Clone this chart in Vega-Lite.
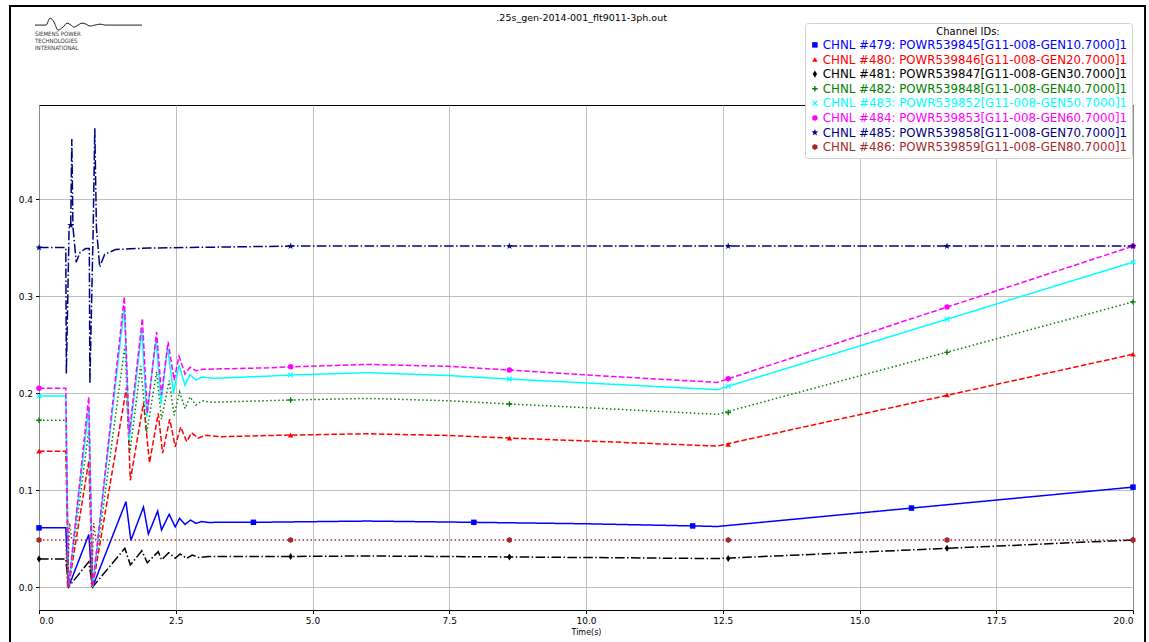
{
  "$schema": "https://vega.github.io/schema/vega-lite/v6.json",
  "width": 1094,
  "height": 505,
  "autosize": {"type": "none"},
  "padding": {"left": 39, "top": 105, "right": 16, "bottom": 32},
  "background": "white",
  "config": {
    "view": {"stroke": "black", "strokeWidth": 1},
    "font": "DejaVu Sans",
    "axis": {"labelFont": "DejaVu Sans", "labelFontSize": 9, "labelColor": "black", "tickColor": "black", "tickSize": 3.5, "domain": false, "gridColor": "#b0b0b0", "gridWidth": 0.8, "titleFont": "DejaVu Sans", "titleFontWeight": "normal", "titleColor": "black"},
    "legend": {"orient": "none", "legendX": 766, "legendY": -82, "titleAnchor": "middle", "titleFontSize": 10, "titleFontWeight": "normal", "titleFont": "DejaVu Sans", "titleColor": "black", "titlePadding": 2,
      "labelFont": "DejaVu Sans", "labelFontSize": 11.8, "labelLimit": 500, "labelOffset": 2, "symbolSize": 30, "symbolStrokeWidth": 0, "strokeColor": "#d0d0d0", "fillColor": "white", "padding": 4, "cornerRadius": 3, "rowPadding": 1.6}
  },
  "datasets": {
    "names": [
      {"ch": "479", "name": "CHNL #479: POWR539845[G11-008-GEN10.7000]1"},
      {"ch": "480", "name": "CHNL #480: POWR539846[G11-008-GEN20.7000]1"},
      {"ch": "481", "name": "CHNL #481: POWR539847[G11-008-GEN30.7000]1"},
      {"ch": "482", "name": "CHNL #482: POWR539848[G11-008-GEN40.7000]1"},
      {"ch": "483", "name": "CHNL #483: POWR539852[G11-008-GEN50.7000]1"},
      {"ch": "484", "name": "CHNL #484: POWR539853[G11-008-GEN60.7000]1"},
      {"ch": "485", "name": "CHNL #485: POWR539858[G11-008-GEN70.7000]1"},
      {"ch": "486", "name": "CHNL #486: POWR539859[G11-008-GEN80.7000]1"}
    ],
    "series": [
      {"ch":"479","t":0,"v":0.061},{"ch":"479","t":0.49,"v":0.061},{"ch":"479","t":0.54,"v":0.0},{"ch":"479","t":0.91,"v":0.054},{"ch":"479","t":0.98,"v":0.0},
      {"ch":"479","t":1.59,"v":0.088},{"ch":"479","t":1.68,"v":0.048},{"ch":"479","t":1.91,"v":0.0825},{"ch":"479","t":2.0,"v":0.0546},{"ch":"479","t":2.17,"v":0.0783},
      {"ch":"479","t":2.24,"v":0.0588},{"ch":"479","t":2.38,"v":0.075},{"ch":"479","t":2.49,"v":0.062},{"ch":"479","t":2.57,"v":0.0708},{"ch":"479","t":2.67,"v":0.0646},
      {"ch":"479","t":2.77,"v":0.069},{"ch":"479","t":2.87,"v":0.0656},{"ch":"479","t":2.97,"v":0.0675},{"ch":"479","t":3.1,"v":0.0665},{"ch":"479","t":3.3,"v":0.0668},
      {"ch":"479","t":3.92,"v":0.0667},{"ch":"479","t":6.0,"v":0.068},{"ch":"479","t":7.95,"v":0.0667},{"ch":"479","t":10.0,"v":0.0652},{"ch":"479","t":11.95,"v":0.063},
      {"ch":"479","t":12.4,"v":0.0624},{"ch":"479","t":20,"v":0.103},

      {"ch":"480","t":0,"v":0.14},{"ch":"480","t":0.49,"v":0.14},{"ch":"480","t":0.54,"v":0.0},{"ch":"480","t":0.91,"v":0.13},{"ch":"480","t":0.98,"v":0.0},
      {"ch":"480","t":1.6,"v":0.206},{"ch":"480","t":1.67,"v":0.11},{"ch":"480","t":1.91,"v":0.19},{"ch":"480","t":2.02,"v":0.128},{"ch":"480","t":2.18,"v":0.179},
      {"ch":"480","t":2.26,"v":0.138},{"ch":"480","t":2.39,"v":0.173},{"ch":"480","t":2.49,"v":0.1447},{"ch":"480","t":2.59,"v":0.165},{"ch":"480","t":2.7,"v":0.15},
      {"ch":"480","t":2.79,"v":0.159},{"ch":"480","t":2.91,"v":0.1535},{"ch":"480","t":3.05,"v":0.1565},{"ch":"480","t":3.3,"v":0.155},{"ch":"480","t":4.6,"v":0.1567},
      {"ch":"480","t":6.0,"v":0.158},{"ch":"480","t":7.5,"v":0.1562},{"ch":"480","t":8.6,"v":0.1536},{"ch":"480","t":10.5,"v":0.1495},{"ch":"480","t":12.4,"v":0.1453},
      {"ch":"480","t":20,"v":0.24},

      {"ch":"481","t":0,"v":0.029},{"ch":"481","t":0.49,"v":0.029},{"ch":"481","t":0.54,"v":0.0},{"ch":"481","t":0.91,"v":0.026},{"ch":"481","t":0.98,"v":0.0},
      {"ch":"481","t":1.57,"v":0.04},{"ch":"481","t":1.67,"v":0.0227},{"ch":"481","t":1.88,"v":0.0374},{"ch":"481","t":1.98,"v":0.025},{"ch":"481","t":2.18,"v":0.0364},
      {"ch":"481","t":2.24,"v":0.028},{"ch":"481","t":2.37,"v":0.0354},{"ch":"481","t":2.49,"v":0.0297},{"ch":"481","t":2.58,"v":0.034},{"ch":"481","t":2.7,"v":0.0296},
      {"ch":"481","t":2.8,"v":0.033},{"ch":"481","t":2.92,"v":0.0305},{"ch":"481","t":3.1,"v":0.0315},{"ch":"481","t":4.6,"v":0.0315},{"ch":"481","t":6.0,"v":0.032},
      {"ch":"481","t":8.6,"v":0.031},{"ch":"481","t":10.5,"v":0.0302},{"ch":"481","t":12.4,"v":0.0293},{"ch":"481","t":20,"v":0.0485},

      {"ch":"482","t":0,"v":0.172},{"ch":"482","t":0.49,"v":0.172},{"ch":"482","t":0.54,"v":0.0},{"ch":"482","t":0.91,"v":0.162},{"ch":"482","t":0.98,"v":0.0},
      {"ch":"482","t":1.57,"v":0.249},{"ch":"482","t":1.66,"v":0.138},{"ch":"482","t":1.86,"v":0.228},{"ch":"482","t":1.97,"v":0.159},{"ch":"482","t":2.15,"v":0.222},
      {"ch":"482","t":2.24,"v":0.173},{"ch":"482","t":2.38,"v":0.213},{"ch":"482","t":2.47,"v":0.177},{"ch":"482","t":2.57,"v":0.201},{"ch":"482","t":2.67,"v":0.184},
      {"ch":"482","t":2.76,"v":0.196},{"ch":"482","t":2.87,"v":0.1876},{"ch":"482","t":2.98,"v":0.192},{"ch":"482","t":3.15,"v":0.1905},{"ch":"482","t":4.6,"v":0.1928},
      {"ch":"482","t":6.0,"v":0.1945},{"ch":"482","t":7.5,"v":0.192},{"ch":"482","t":8.6,"v":0.1887},{"ch":"482","t":10.5,"v":0.1835},{"ch":"482","t":12.4,"v":0.178},
      {"ch":"482","t":20,"v":0.294},

      {"ch":"483","t":0,"v":0.197},{"ch":"483","t":0.49,"v":0.197},{"ch":"483","t":0.54,"v":0.0},{"ch":"483","t":0.91,"v":0.185},{"ch":"483","t":0.98,"v":0.0},
      {"ch":"483","t":1.56,"v":0.289},{"ch":"483","t":1.65,"v":0.1515},{"ch":"483","t":1.88,"v":0.265},{"ch":"483","t":1.97,"v":0.1756},{"ch":"483","t":2.14,"v":0.2564},
      {"ch":"483","t":2.23,"v":0.189},{"ch":"483","t":2.35,"v":0.2478},{"ch":"483","t":2.46,"v":0.1997},{"ch":"483","t":2.56,"v":0.229},{"ch":"483","t":2.67,"v":0.208},
      {"ch":"483","t":2.76,"v":0.219},{"ch":"483","t":2.87,"v":0.2134},{"ch":"483","t":2.98,"v":0.2165},{"ch":"483","t":3.2,"v":0.2152},{"ch":"483","t":4.2,"v":0.2175},
      {"ch":"483","t":4.6,"v":0.2186},{"ch":"483","t":6.0,"v":0.221},{"ch":"483","t":7.5,"v":0.218},{"ch":"483","t":8.6,"v":0.2144},{"ch":"483","t":10.5,"v":0.209},
      {"ch":"483","t":12.4,"v":0.2035},{"ch":"483","t":20,"v":0.335},

      {"ch":"484","t":0,"v":0.205},{"ch":"484","t":0.49,"v":0.205},{"ch":"484","t":0.54,"v":0.0},{"ch":"484","t":0.91,"v":0.196},{"ch":"484","t":0.98,"v":0.0},
      {"ch":"484","t":1.56,"v":0.2993},{"ch":"484","t":1.65,"v":0.158},{"ch":"484","t":1.89,"v":0.277},{"ch":"484","t":1.98,"v":0.179},{"ch":"484","t":2.15,"v":0.263},
      {"ch":"484","t":2.24,"v":0.198},{"ch":"484","t":2.36,"v":0.253},{"ch":"484","t":2.47,"v":0.2134},{"ch":"484","t":2.56,"v":0.238},{"ch":"484","t":2.67,"v":0.2196},
      {"ch":"484","t":2.76,"v":0.2265},{"ch":"484","t":2.87,"v":0.223},{"ch":"484","t":3.0,"v":0.2245},{"ch":"484","t":4.2,"v":0.226},{"ch":"484","t":4.6,"v":0.227},
      {"ch":"484","t":6.0,"v":0.2295},{"ch":"484","t":7.5,"v":0.2275},{"ch":"484","t":8.6,"v":0.2237},{"ch":"484","t":10.5,"v":0.217},{"ch":"484","t":12.4,"v":0.211},
      {"ch":"484","t":20,"v":0.3515},

      {"ch":"485","t":0,"v":0.35},{"ch":"485","t":0.49,"v":0.35},{"ch":"485","t":0.5,"v":0.22},{"ch":"485","t":0.55,"v":0.37},{"ch":"485","t":0.58,"v":0.373},
      {"ch":"485","t":0.6,"v":0.462},{"ch":"485","t":0.62,"v":0.372},{"ch":"485","t":0.68,"v":0.335},{"ch":"485","t":0.75,"v":0.345},{"ch":"485","t":0.85,"v":0.349},
      {"ch":"485","t":0.92,"v":0.349},{"ch":"485","t":0.93,"v":0.21},{"ch":"485","t":0.99,"v":0.368},{"ch":"485","t":1.02,"v":0.473},{"ch":"485","t":1.05,"v":0.37},
      {"ch":"485","t":1.11,"v":0.33},{"ch":"485","t":1.2,"v":0.343},{"ch":"485","t":1.4,"v":0.348},{"ch":"485","t":2.0,"v":0.3495},{"ch":"485","t":4.6,"v":0.3515},
      {"ch":"485","t":20,"v":0.3515},

      {"ch":"486","t":0,"v":0.0485},{"ch":"486","t":0.49,"v":0.0485},{"ch":"486","t":0.52,"v":0.0},{"ch":"486","t":0.56,"v":0.066},{"ch":"486","t":0.6,"v":0.0485},
      {"ch":"486","t":0.93,"v":0.0485},{"ch":"486","t":0.96,"v":0.0},{"ch":"486","t":1.0,"v":0.066},{"ch":"486","t":1.04,"v":0.0485},{"ch":"486","t":20,"v":0.0485}
    ],
    "markers": [
      {"ch":"479","t":0,"v":0.061},{"ch":"479","t":3.92,"v":0.0667},{"ch":"479","t":7.95,"v":0.0667},{"ch":"479","t":11.95,"v":0.063},{"ch":"479","t":15.95,"v":0.0814},{"ch":"479","t":20,"v":0.103},
      {"ch":"480","t":0,"v":0.14},{"ch":"480","t":4.6,"v":0.1567},{"ch":"480","t":8.6,"v":0.1536},{"ch":"480","t":12.6,"v":0.147},{"ch":"480","t":16.6,"v":0.198},{"ch":"480","t":20,"v":0.24},
      {"ch":"481","t":0,"v":0.029},{"ch":"481","t":4.6,"v":0.0315},{"ch":"481","t":8.6,"v":0.031},{"ch":"481","t":12.6,"v":0.0294},{"ch":"481","t":16.6,"v":0.04},{"ch":"481","t":20,"v":0.0485},
      {"ch":"482","t":0,"v":0.172},{"ch":"482","t":4.6,"v":0.1928},{"ch":"482","t":8.6,"v":0.1887},{"ch":"482","t":12.6,"v":0.18},{"ch":"482","t":16.6,"v":0.242},{"ch":"482","t":20,"v":0.294},
      {"ch":"483","t":0,"v":0.197},{"ch":"483","t":4.6,"v":0.2186},{"ch":"483","t":8.6,"v":0.2144},{"ch":"483","t":12.6,"v":0.207},{"ch":"483","t":16.6,"v":0.2762},{"ch":"483","t":20,"v":0.335},
      {"ch":"484","t":0,"v":0.205},{"ch":"484","t":4.6,"v":0.227},{"ch":"484","t":8.6,"v":0.2237},{"ch":"484","t":12.6,"v":0.2147},{"ch":"484","t":16.6,"v":0.2887},{"ch":"484","t":20,"v":0.3515},
      {"ch":"485","t":0,"v":0.35},{"ch":"485","t":0.58,"v":0.373},{"ch":"485","t":4.6,"v":0.3515},{"ch":"485","t":8.6,"v":0.3515},{"ch":"485","t":12.6,"v":0.3515},{"ch":"485","t":16.6,"v":0.3515},{"ch":"485","t":20,"v":0.3515},
      {"ch":"486","t":0,"v":0.0485},{"ch":"486","t":4.6,"v":0.0485},{"ch":"486","t":8.6,"v":0.0485},{"ch":"486","t":12.6,"v":0.0485},{"ch":"486","t":16.6,"v":0.0485},{"ch":"486","t":20,"v":0.0485}
    ],
    "logo": [
      {"t":-0.073,"v":0.5794},{"t":0.128,"v":0.5794},{"t":0.201,"v":0.5866},{"t":0.274,"v":0.5825},{"t":0.347,"v":0.5742},{"t":0.439,"v":0.5773},
      {"t":0.512,"v":0.5814},{"t":0.585,"v":0.5794},{"t":0.64,"v":0.5773},{"t":0.713,"v":0.5794},{"t":0.786,"v":0.5814},{"t":0.859,"v":0.5804},
      {"t":0.932,"v":0.5784},{"t":1.024,"v":0.5794},{"t":1.115,"v":0.5804},{"t":1.207,"v":0.5794},{"t":1.298,"v":0.5794},{"t":1.883,"v":0.5794}
    ]
  },
  "layer": [
    {
      "data": {"values": [{"frame": "page"}]},
      "mark": {"type": "rect", "filled": false, "stroke": "black", "strokeWidth": 2},
      "encoding": {
        "x": {"datum": -0.53, "type": "quantitative", "scale": {"domain": [0, 20], "nice": false, "zero": false}},
        "x2": {"datum": 20.22},
        "y": {"datum": 0.599, "type": "quantitative", "scale": {"domain": [-0.0237, 0.497], "nice": false, "zero": false}},
        "y2": {"datum": -0.1}
      }
    },
    {
      "data": {"name": "series"},
      "transform": [{"lookup": "ch", "from": {"data": {"name": "names"}, "key": "ch", "fields": ["name"]}}],
      "mark": {"type": "line", "strokeWidth": 1.5},
      "encoding": {
        "x": {"field": "t", "type": "quantitative", "scale": {"domain": [0, 20], "nice": false, "zero": false},
          "axis": {"values": [0, 2.5, 5, 7.5, 10, 12.5, 15, 17.5, 20], "format": ".1f", "title": "Time(s)", "titleFontSize": 8, "titlePadding": 3, "labelPadding": 3, "grid": true}},
        "y": {"field": "v", "type": "quantitative", "scale": {"domain": [-0.0237, 0.497], "nice": false, "zero": false},
          "axis": {"values": [0, 0.1, 0.2, 0.3, 0.4], "format": ".1f", "title": null, "grid": true, "labelPadding": 3}},
        "color": {"field": "name", "type": "nominal", "title": "Channel IDs:",
          "scale": {"domain": [
            "CHNL #479: POWR539845[G11-008-GEN10.7000]1","CHNL #480: POWR539846[G11-008-GEN20.7000]1","CHNL #481: POWR539847[G11-008-GEN30.7000]1","CHNL #482: POWR539848[G11-008-GEN40.7000]1",
            "CHNL #483: POWR539852[G11-008-GEN50.7000]1","CHNL #484: POWR539853[G11-008-GEN60.7000]1","CHNL #485: POWR539858[G11-008-GEN70.7000]1","CHNL #486: POWR539859[G11-008-GEN80.7000]1"],
            "range": ["#0000ff", "#ff0000", "#000000", "#008000", "#00ffff", "#ff00ff", "#000080", "#a52a2a"]},
          "legend": {"encode": {"labels": {"update": {"fill": {"scale": "color", "field": "value"}}}, "symbols": {"update": {"fill": {"scale": "color", "field": "value"}, "strokeWidth": {"value": 0}}}}}},
        "strokeDash": {"field": "name", "type": "nominal",
          "scale": {"domain": [
            "CHNL #479: POWR539845[G11-008-GEN10.7000]1","CHNL #480: POWR539846[G11-008-GEN20.7000]1","CHNL #481: POWR539847[G11-008-GEN30.7000]1","CHNL #482: POWR539848[G11-008-GEN40.7000]1",
            "CHNL #483: POWR539852[G11-008-GEN50.7000]1","CHNL #484: POWR539853[G11-008-GEN60.7000]1","CHNL #485: POWR539858[G11-008-GEN70.7000]1","CHNL #486: POWR539859[G11-008-GEN80.7000]1"],
            "range": [[1, 0], [5.5, 2.4], [9.6, 2.4, 1.5, 2.4], [1.5, 2.5], [1, 0], [5.5, 2.4], [9.6, 2.4, 1.5, 2.4], [1.5, 2.5]]},
          "legend": null}
      }
    },
    {
      "data": {"name": "markers"},
      "transform": [{"lookup": "ch", "from": {"data": {"name": "names"}, "key": "ch", "fields": ["name"]}}],
      "mark": {"type": "point", "filled": true, "opacity": 1, "size": 30},
      "encoding": {
        "x": {"field": "t", "type": "quantitative", "scale": {"domain": [0, 20], "nice": false, "zero": false}},
        "y": {"field": "v", "type": "quantitative", "scale": {"domain": [-0.0237, 0.497], "nice": false, "zero": false}},
        "color": {"field": "name", "type": "nominal", "title": "Channel IDs:",
          "scale": {"domain": [
            "CHNL #479: POWR539845[G11-008-GEN10.7000]1","CHNL #480: POWR539846[G11-008-GEN20.7000]1","CHNL #481: POWR539847[G11-008-GEN30.7000]1","CHNL #482: POWR539848[G11-008-GEN40.7000]1",
            "CHNL #483: POWR539852[G11-008-GEN50.7000]1","CHNL #484: POWR539853[G11-008-GEN60.7000]1","CHNL #485: POWR539858[G11-008-GEN70.7000]1","CHNL #486: POWR539859[G11-008-GEN80.7000]1"],
            "range": ["#0000ff", "#ff0000", "#000000", "#008000", "#00ffff", "#ff00ff", "#000080", "#a52a2a"]},
          "legend": {"encode": {"labels": {"update": {"fill": {"scale": "color", "field": "value"}}}, "symbols": {"update": {"fill": {"scale": "color", "field": "value"}, "strokeWidth": {"value": 0}}}}}},
        "shape": {"field": "name", "type": "nominal", "title": "Channel IDs:",
          "scale": {"domain": [
            "CHNL #479: POWR539845[G11-008-GEN10.7000]1","CHNL #480: POWR539846[G11-008-GEN20.7000]1","CHNL #481: POWR539847[G11-008-GEN30.7000]1","CHNL #482: POWR539848[G11-008-GEN40.7000]1",
            "CHNL #483: POWR539852[G11-008-GEN50.7000]1","CHNL #484: POWR539853[G11-008-GEN60.7000]1","CHNL #485: POWR539858[G11-008-GEN70.7000]1","CHNL #486: POWR539859[G11-008-GEN80.7000]1"],
            "range": ["square", "triangle-up", "M0,-1.3L0.8,0L0,1.3L-0.8,0Z", "M-0.25,-1H0.25V-0.25H1V0.25H0.25V1H-0.25V0.25H-1V-0.25H-0.25Z",
              "M-1,-0.7L-0.7,-1L0,-0.3L0.7,-1L1,-0.7L0.3,0L1,0.7L0.7,1L0,0.3L-0.7,1L-1,0.7L-0.3,0Z", "circle",
              "M0,-1.3L0.306,-0.421L1.236,-0.402L0.494,0.161L0.764,1.052L0,0.52L-0.764,1.052L-0.494,0.161L-1.236,-0.402L-0.306,-0.421Z",
              "M0,-1.1L0.953,-0.55L0.953,0.55L0,1.1L-0.953,0.55L-0.953,-0.55Z"]}}
      }
    },
    {
      "data": {"values": [{"label": ".25s_gen-2014-001_flt9011-3ph.out"}]},
      "mark": {"type": "text", "fontSize": 9.5, "font": "DejaVu Sans", "align": "center", "baseline": "middle", "color": "black"},
      "encoding": {
        "x": {"datum": 9.92, "type": "quantitative"},
        "y": {"datum": 0.5866, "type": "quantitative"},
        "text": {"field": "label"}
      }
    },
    {
      "data": {"values": [{"label": "SIEMENS POWER\nTECHNOLOGIES\nINTERNATIONAL"}]},
      "mark": {"type": "text", "fontSize": 6, "font": "DejaVu Sans Condensed", "align": "left", "baseline": "top", "color": "#333333", "lineBreak": "\n", "lineHeight": 7},
      "encoding": {
        "x": {"datum": -0.073, "type": "quantitative"},
        "y": {"datum": 0.5733, "type": "quantitative"},
        "text": {"field": "label"}
      }
    },
    {
      "data": {"name": "logo"},
      "mark": {"type": "line", "color": "#222222", "strokeWidth": 1, "interpolate": "monotone"},
      "encoding": {
        "x": {"field": "t", "type": "quantitative"},
        "y": {"field": "v", "type": "quantitative"}
      }
    }
  ]
}
